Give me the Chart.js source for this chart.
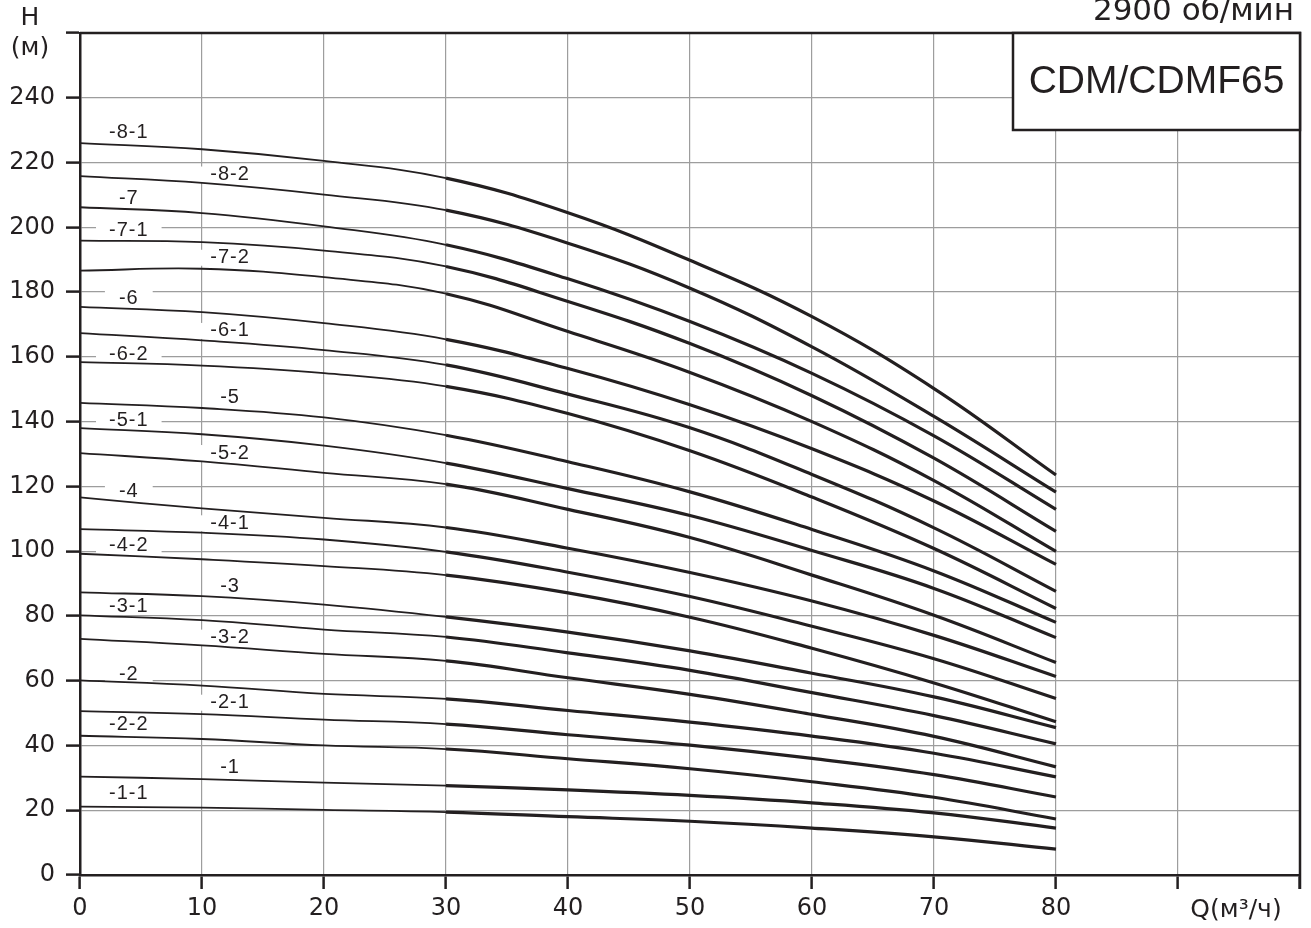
<!DOCTYPE html>
<html>
<head>
<meta charset="utf-8">
<script src="https://cdn.jsdelivr.net/npm/chart.js@4.4.1/dist/chart.umd.min.js"></script>
<style>
  html, body { margin: 0; padding: 0; background: #fff; }
  #wrap { position: relative; width: 1311px; height: 928px; }
</style>
</head>
<body>
<div id="wrap"><canvas id="pumpChart" width="1311" height="928"></canvas></div>
<script>
// flow rate Q, m3/h
const flowQ = [0, 10, 20, 30, 40, 50, 60, 70, 80];

// head H (m) for every impeller variant
const head_8_1 = [226.0, 224.1, 220.5, 215.2, 204.5, 189.8, 172.4, 150.2, 123.5];
const head_8_2 = [215.8, 213.7, 210.1, 205.3, 195.1, 181.2, 163.1, 141.6, 118.2];
const head_7   = [206.2, 204.4, 200.3, 194.6, 184.1, 170.9, 154.9, 135.6, 112.9];
const head_7_1 = [195.9, 195.4, 192.8, 187.9, 177.1, 164.1, 148.0, 128.7, 106.1];
const head_7_2 = [186.6, 187.2, 184.6, 179.5, 167.8, 155.2, 140.0, 121.8, 99.9];
const head_6   = [175.4, 173.8, 170.4, 165.4, 156.4, 145.2, 131.6, 115.5, 95.9];
const head_6_1 = [167.3, 165.1, 162.1, 157.5, 148.5, 138.1, 123.7, 107.2, 87.6];
const head_6_2 = [158.4, 157.3, 155.0, 150.9, 142.5, 131.0, 116.7, 100.8, 82.3];
const head_5   = [145.8, 144.2, 141.3, 135.8, 127.6, 118.3, 106.7, 93.9, 78.0];
const head_5_1 = [138.0, 136.1, 132.6, 127.2, 119.3, 111.0, 100.2, 88.5, 73.3];
const head_5_2 = [130.3, 127.7, 124.2, 120.7, 112.9, 104.2, 92.6, 80.2, 65.6];
const head_4   = [116.6, 113.2, 110.3, 107.3, 100.9, 93.4, 84.6, 74.0, 61.3];
const head_4_1 = [106.8, 105.7, 103.6, 99.8, 93.5, 86.0, 76.8, 66.8, 54.5];
const head_4_2 = [99.2, 97.5, 95.4, 92.6, 87.1, 79.6, 70.0, 59.3, 47.3];
const head_3   = [87.3, 86.1, 83.5, 79.7, 75.0, 69.2, 62.3, 55.0, 45.5];
const head_3_1 = [80.2, 78.7, 75.8, 73.5, 68.6, 63.2, 56.3, 49.2, 40.5];
const head_3_2 = [72.9, 70.9, 68.3, 66.1, 60.9, 55.8, 49.6, 42.8, 33.4];
const head_2   = [60.1, 58.5, 55.9, 54.4, 50.8, 47.2, 42.9, 37.6, 30.3];
const head_2_1 = [50.6, 49.7, 48.0, 46.6, 43.3, 40.1, 36.0, 31.0, 24.1];
const head_2_2 = [43.0, 42.0, 40.0, 38.9, 35.9, 32.8, 28.8, 24.0, 17.3];
const head_1   = [30.4, 29.6, 28.5, 27.6, 26.3, 24.6, 22.3, 19.2, 14.5];
const head_1_1 = [21.1, 20.8, 20.1, 19.4, 18.0, 16.6, 14.5, 11.8, 8.0];

const curveNames = ['-8-1', '-8-2', '-7', '-7-1', '-7-2', '-6', '-6-1', '-6-2',
                    '-5', '-5-1', '-5-2', '-4', '-4-1', '-4-2', '-3', '-3-1', '-3-2',
                    '-2', '-2-1', '-2-2', '-1', '-1-1'];
const headCurves = [head_8_1, head_8_2, head_7, head_7_1, head_7_2, head_6, head_6_1, head_6_2,
                    head_5, head_5_1, head_5_2, head_4, head_4_1, head_4_2, head_3, head_3_1, head_3_2,
                    head_2, head_2_1, head_2_2, head_1, head_1_1];

// where each curve name sits (Q, H)
const labelQ = [4.0, 12.3, 4.0, 4.0, 12.3, 4.0, 12.3, 4.0, 12.3, 4.0, 12.3,
                4.0, 12.3, 4.0, 12.3, 4.0, 12.3, 4.0, 12.3, 4.0, 12.3, 4.0];
const labelH = [229.3, 216.3, 208.8, 198.9, 190.6, 177.9, 168.0, 160.6, 147.3, 140.2, 130.3,
                118.5, 108.6, 101.8, 89.1, 82.9, 73.3, 61.9, 53.2, 46.4, 33.1, 25.1];

// axis ticks
const xTickMax = 80;   // last labelled Q tick
const yTickMax = 240;  // last labelled H tick

const ink = '#231f20';
const gridGray = '#9d9d9d';

const datasets = curveNames.map((name, i) => ({
    label: name,
    data: flowQ.map((q, j) => ({ x: q, y: headCurves[i][j] })),
    borderColor: ink,
    borderWidth: 1.8,
    pointRadius: 0,
    tension: 0.4,
    // thin line up to 30 m3/h, heavy working range after
    segment: { borderWidth: ctx => ctx.p0.parsed.x >= 30 ? 3.2 : 1.8 }
}));

// white patches under curve names, title box, frame
const sheetDecor = {
    id: 'sheetDecor',
    beforeDatasetsDraw(chart) {
        const { ctx, chartArea, scales } = chart;
        ctx.save();
        ctx.font = '20px "Liberation Sans", Arial, sans-serif';
        ctx.fillStyle = '#fff';
        curveNames.forEach((name, i) => {
            const px = scales.x.getPixelForValue(labelQ[i]);
            const py = scales.y.getPixelForValue(labelH[i]);
            const w = ctx.measureText(name).width + 30;
            ctx.fillRect(px - w / 2, py - 8, w, 16);
        });

        // frame top & right
        ctx.strokeStyle = ink;
        ctx.lineWidth = 2.5;
        ctx.beginPath();
        ctx.moveTo(chartArea.left, chartArea.top);
        ctx.lineTo(chartArea.right, chartArea.top);
        ctx.lineTo(chartArea.right, chartArea.bottom + 14);
        ctx.stroke();

        // model box
        const bx = 1013, by = chartArea.top, bw = chartArea.right - 1013, bh = 97;
        ctx.fillStyle = '#fff';
        ctx.fillRect(bx, by, bw, bh);
        ctx.strokeRect(bx, by, bw, bh);
        ctx.restore();
    },
    afterDatasetsDraw(chart) {
        const { ctx, chartArea, scales } = chart;
        ctx.save();
        ctx.fillStyle = ink;
        ctx.textAlign = 'center';
        ctx.textBaseline = 'middle';
        ctx.font = '20px "Liberation Sans", Arial, sans-serif';
        ctx.letterSpacing = '1px';
        curveNames.forEach((name, i) => {
            ctx.fillText(name, scales.x.getPixelForValue(labelQ[i]), scales.y.getPixelForValue(labelH[i]));
        });
        ctx.letterSpacing = '0px';

        ctx.font = '39px "Liberation Sans", Arial, sans-serif';
        ctx.fillText('CDM/CDMF65', (1013 + chartArea.right) / 2, chartArea.top + 49);

        ctx.font = '25px "DejaVu Sans", sans-serif';
        ctx.fillText('H', 30, 18);
        ctx.fillText('(м)', 30, 48);
        ctx.fillText('Q(м³/ч)', 1236, 910);

        ctx.textAlign = 'right';
        ctx.textBaseline = 'alphabetic';
        ctx.font = '31px "DejaVu Sans", sans-serif';
        ctx.fillText('2900 об/мин', 1294, 20);
        ctx.restore();
    }
};

new Chart(document.getElementById('pumpChart'), {
    type: 'line',
    data: { datasets: datasets },
    options: {
        responsive: false,
        animation: false,
        events: [],
        layout: { padding: { top: 33, right: 11, left: 0, bottom: 0 } },
        plugins: { legend: { display: false }, tooltip: { enabled: false } },
        scales: {
            x: {
                type: 'linear',
                min: 0,
                max: 100,
                afterFit: s => { s.height = 53; },
                ticks: {
                    stepSize: 10,
                    autoSkip: false,
                    maxRotation: 0,
                    padding: 5,
                    color: ink,
                    font: { family: 'DejaVu Sans', size: 24 },
                    callback: v => (v <= xTickMax ? v : '')
                },
                grid: { color: gridGray, lineWidth: 1.2, tickLength: 14, tickColor: ink, tickWidth: 2.5 },
                border: { color: ink, width: 2.5 }
            },
            y: {
                min: 0,
                max: 260,
                afterFit: s => { s.width = 80; },
                ticks: {
                    stepSize: 20,
                    autoSkip: false,
                    padding: 11,
                    color: ink,
                    font: { family: 'DejaVu Sans', size: 24 },
                    callback: v => (v <= yTickMax ? v : '')
                },
                grid: { color: gridGray, lineWidth: 1.2, tickLength: 14, tickColor: ink, tickWidth: 2.5 },
                border: { color: ink, width: 2.5 }
            }
        }
    },
    plugins: [sheetDecor]
});
</script>
</body>
</html>
